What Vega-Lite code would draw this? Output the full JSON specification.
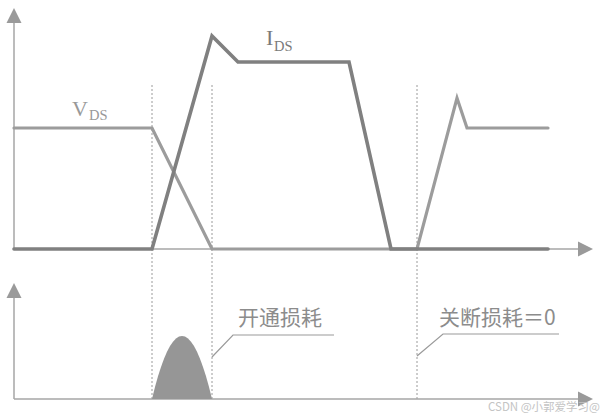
{
  "$schema": "https://vega.github.io/schema/vega-lite/v6.json",
  "width": 606,
  "height": 419,
  "autosize": {"type": "fit", "contains": "padding"},
  "padding": 0,
  "background": "white",
  "config": {"view": {"stroke": null}},
  "datasets": {
    "waves": [
      {"s": "VDS", "o": 1, "x": 14, "y": 291},
      {"s": "VDS", "o": 2, "x": 152, "y": 291},
      {"s": "VDS", "o": 3, "x": 212, "y": 170},
      {"s": "VDS", "o": 4, "x": 417, "y": 170},
      {"s": "VDS", "o": 5, "x": 457, "y": 321},
      {"s": "VDS", "o": 6, "x": 467, "y": 291},
      {"s": "VDS", "o": 7, "x": 548, "y": 291},
      {"s": "IDS", "o": 1, "x": 14, "y": 170},
      {"s": "IDS", "o": 2, "x": 152, "y": 170},
      {"s": "IDS", "o": 3, "x": 212, "y": 383},
      {"s": "IDS", "o": 4, "x": 238, "y": 357},
      {"s": "IDS", "o": 5, "x": 349, "y": 357},
      {"s": "IDS", "o": 6, "x": 391, "y": 170},
      {"s": "IDS", "o": 7, "x": 548, "y": 170}
    ],
    "axes": [
      {"x": 14, "y": 170, "x2": 14, "y2": 396},
      {"x": 14, "y": 170, "x2": 578, "y2": 170},
      {"x": 14, "y": 20, "x2": 14, "y2": 121},
      {"x": 14, "y": 20, "x2": 578, "y2": 20}
    ],
    "guides": [
      {"x": 152, "y": 20, "x2": 152, "y2": 336},
      {"x": 212, "y": 20, "x2": 212, "y2": 336},
      {"x": 417, "y": 20, "x2": 417, "y2": 336}
    ],
    "arrows": [
      {"d": "up", "x": 14, "y": 403.5},
      {"d": "up", "x": 14, "y": 128.5},
      {"d": "right", "x": 585.5, "y": 170},
      {"d": "right", "x": 585.5, "y": 20}
    ],
    "hump": [
      {"x": 152, "y": 20}, {"x": 155, "y": 32}, {"x": 158, "y": 42.7}, {"x": 161, "y": 52.1},
      {"x": 164, "y": 60.3}, {"x": 167, "y": 67.3}, {"x": 170, "y": 72.9}, {"x": 173, "y": 77.3},
      {"x": 176, "y": 80.5}, {"x": 179, "y": 82.4}, {"x": 182, "y": 83}, {"x": 185, "y": 82.4},
      {"x": 188, "y": 80.5}, {"x": 191, "y": 77.3}, {"x": 194, "y": 72.9}, {"x": 197, "y": 67.3},
      {"x": 200, "y": 60.3}, {"x": 203, "y": 52.1}, {"x": 206, "y": 42.7}, {"x": 209, "y": 32},
      {"x": 212, "y": 20}
    ],
    "leaders": [
      {"g": "a", "o": 1, "x": 212, "y": 62},
      {"g": "a", "o": 2, "x": 233, "y": 84},
      {"g": "a", "o": 3, "x": 334, "y": 84},
      {"g": "b", "o": 1, "x": 417, "y": 63},
      {"g": "b", "o": 2, "x": 443, "y": 85},
      {"g": "b", "o": 3, "x": 559, "y": 85}
    ],
    "cjk": [
      {"x": 238, "y": 94, "t": "开通损耗"},
      {"x": 439, "y": 94, "t": "关断损耗＝0"}
    ],
    "big": [
      {"s": "VDS", "x": 72, "y": 303, "t": "V"},
      {"s": "IDS", "x": 266, "y": 374, "t": "I"}
    ],
    "sub": [
      {"s": "VDS", "x": 89, "y": 299, "t": "DS"},
      {"s": "IDS", "x": 274, "y": 368, "t": "DS"}
    ],
    "mark": [
      {"x": 488, "y": 11, "t": "CSDN @小郭爱学习@"}
    ]
  },
  "encoding": {
    "x": {"field": "x", "type": "quantitative", "scale": {"domain": [0, 606], "nice": false, "zero": false}, "axis": null},
    "y": {"field": "y", "type": "quantitative", "scale": {"domain": [0, 419], "nice": false, "zero": false}, "axis": null}
  },
  "layer": [
    {
      "data": {"name": "guides"},
      "mark": {"type": "rule", "color": "#9a9a9a", "strokeWidth": 1, "strokeDash": [2, 2]},
      "encoding": {"x2": {"field": "x2"}, "y2": {"field": "y2"}}
    },
    {
      "data": {"name": "axes"},
      "mark": {"type": "rule", "color": "#a6a6a6", "strokeWidth": 1.5},
      "encoding": {"x2": {"field": "x2"}, "y2": {"field": "y2"}}
    },
    {
      "data": {"name": "arrows"},
      "transform": [{"filter": "datum.d === 'up'"}],
      "mark": {"type": "point", "shape": "M0,-1L1,1L-1,1Z", "size": 225, "filled": true, "color": "#9a9a9a", "opacity": 1},
      "encoding": {}
    },
    {
      "data": {"name": "arrows"},
      "transform": [{"filter": "datum.d === 'right'"}],
      "mark": {"type": "point", "shape": "M1,0L-1,-1L-1,1Z", "size": 225, "filled": true, "color": "#9a9a9a", "opacity": 1},
      "encoding": {}
    },
    {
      "data": {"name": "hump"},
      "mark": {"type": "area", "color": "#969696", "opacity": 1},
      "encoding": {"y2": {"datum": 20}}
    },
    {
      "data": {"name": "waves"},
      "transform": [{"filter": "datum.s === 'VDS'"}],
      "mark": {"type": "line", "color": "#9c9c9c", "strokeWidth": 3.2, "strokeJoin": "miter", "strokeCap": "round"},
      "encoding": {"order": {"field": "o"}}
    },
    {
      "data": {"name": "waves"},
      "transform": [{"filter": "datum.s === 'IDS'"}],
      "mark": {"type": "line", "color": "#808080", "strokeWidth": 3.6, "strokeJoin": "miter", "strokeCap": "round"},
      "encoding": {"order": {"field": "o"}}
    },
    {
      "data": {"name": "leaders"},
      "mark": {"type": "line", "color": "#9a9a9a", "strokeWidth": 1.2},
      "encoding": {"detail": {"field": "g"}, "order": {"field": "o"}}
    },
    {
      "data": {"name": "cjk"},
      "mark": {"type": "text", "align": "left", "baseline": "alphabetic", "font": "Noto Sans CJK SC", "fontSize": 21, "color": "#8c8c8c"},
      "encoding": {"text": {"field": "t"}}
    },
    {
      "data": {"name": "big"},
      "mark": {"type": "text", "align": "left", "baseline": "alphabetic", "font": "Liberation Serif", "fontSize": 22},
      "encoding": {"text": {"field": "t"}, "color": {"field": "s", "type": "nominal", "scale": {"domain": ["VDS", "IDS"], "range": ["#999999", "#7a7a7a"]}, "legend": null}}
    },
    {
      "data": {"name": "sub"},
      "mark": {"type": "text", "align": "left", "baseline": "alphabetic", "font": "Liberation Serif", "fontSize": 14.5},
      "encoding": {"text": {"field": "t"}, "color": {"field": "s", "type": "nominal", "scale": {"domain": ["VDS", "IDS"], "range": ["#999999", "#7a7a7a"]}, "legend": null}}
    },
    {
      "data": {"name": "mark"},
      "mark": {"type": "text", "align": "left", "baseline": "middle", "font": "Noto Sans CJK SC", "fontSize": 11.5, "color": "#c4c4c4"},
      "encoding": {"text": {"field": "t"}}
    }
  ]
}
